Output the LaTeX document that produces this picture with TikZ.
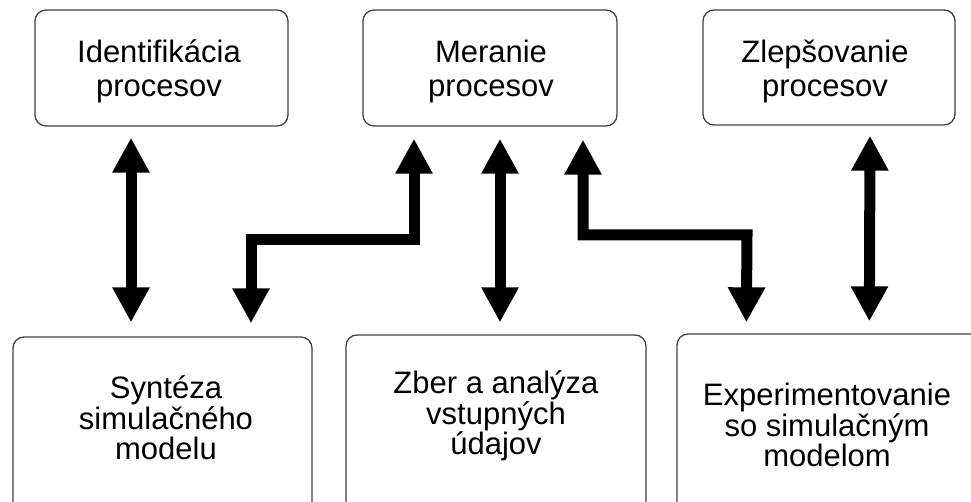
\documentclass[tikz,border=0pt]{standalone}
\usepackage{fontspec}
\setmainfont{Liberation Sans}
\usetikzlibrary{arrows.meta,calc}
\begin{document}
\begin{tikzpicture}[x=1pt,y=-1pt,
  box/.style={draw=black!75,line width=1.3pt,rounded corners=11pt,inner sep=0pt,fill=none},
  txt/.style={align=center,inner sep=0pt,font=\fontsize{31}{34}\selectfont},
  txtb/.style={align=center,inner sep=0pt,font=\fontsize{31}{30.5}\selectfont},
  biarrow/.style={line width=11pt,line join=miter,line cap=butt,
    {Triangle[length=35pt,width=35pt]}-{Triangle[length=35pt,width=35pt]}}]
\useasboundingbox (0,0) rectangle (971,502);
\clip (0,0) rectangle (971,502);
% boxes
\node[box,minimum width=253pt,minimum height=116pt] (b1) at (161.5,68) {};
\node[box,minimum width=254pt,minimum height=116pt] (b2) at (490,68) {};
\node[box,minimum width=252pt,minimum height=115pt] (b3) at (829,67.5) {};
\node[box,minimum width=299pt,minimum height=183pt] (b4) at (162.5,428.5) {};
\node[box,minimum width=300pt,minimum height=185pt] (b5) at (496,427.5) {};
\node[box,minimum width=313pt,minimum height=186pt] (b6) at (833.5,427) {};
% texts
\node[txt] (t1) at (159,71) {Identifikácia\\procesov};
\node[txt] (t2) at (491,71) {Meranie\\procesov};
\node[txt] (t3) at (825,71) {Zlepšovanie\\procesov};
\node[txtb] (t4) at (166,418) {Syntéza\\simulačného\\modelu};
\node[txtb] (t5) at (496,416) {Zber a analýza\\vstupných\\údajov};
\node[txtb] (t6) at (827,425) {Experimentovanie\\so simulačným\\modelom};
% bends
\coordinate (k1) at (251,240);
\coordinate (k2) at (747,235);
% connectors
\draw[biarrow] ([xshift=-30.5pt,yshift=-11pt]b1.south) -- ([xshift=-31.5pt,yshift=14pt]b4.north);
\draw[biarrow] ([xshift=-76pt,yshift=-12pt]b2.south) |- (k1) -- ([xshift=88.5pt,yshift=13pt]b4.north);
\draw[biarrow] ([xshift=10pt,yshift=-12pt]b2.south) -- ([xshift=4pt,yshift=12pt]b5.north);
\draw[biarrow] ([xshift=93pt,yshift=-13pt]b2.south) |- (k2) -- ([xshift=70pt,yshift=11pt]b6.north west);
\draw[biarrow] ([xshift=41pt,yshift=-10pt]b3.south) -- ([xshift=193pt,yshift=12pt]b6.north west);
\end{tikzpicture}
\end{document}
